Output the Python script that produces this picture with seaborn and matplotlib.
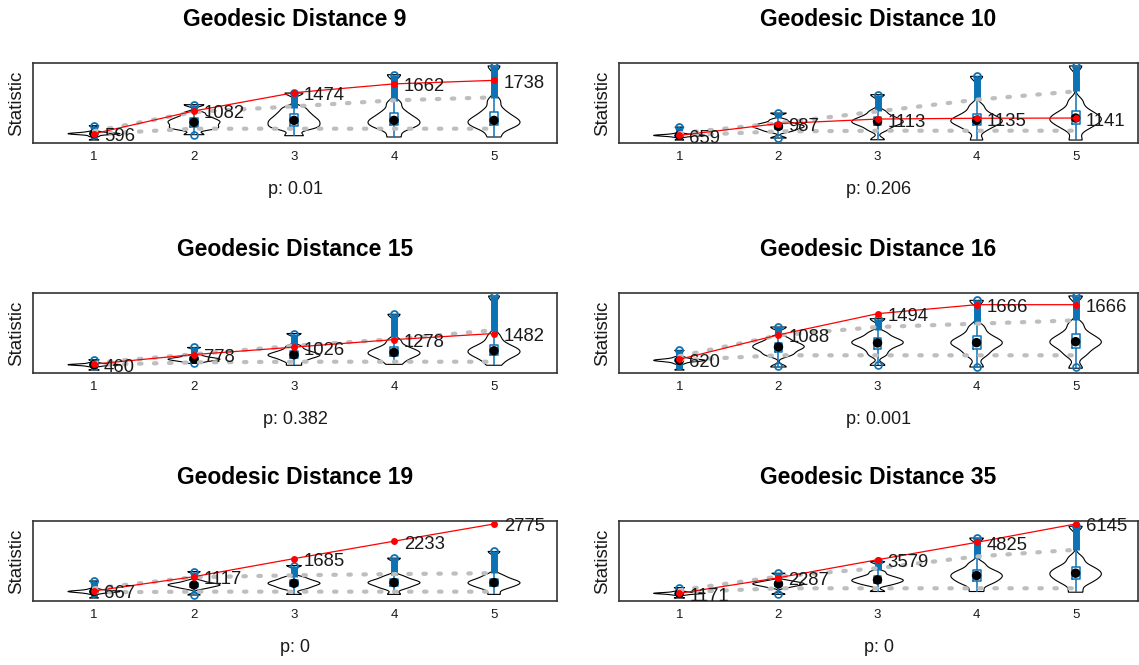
import numpy as np
import pandas as pd
import matplotlib
matplotlib.use("Agg")
import matplotlib.pyplot as plt
import seaborn as sns

# ---------------------------------------------------------------- data
positions = [1, 2, 3, 4, 5]
tick_labels = ["1", "2", "3", "4", "5"]
distances = [9, 10, 15, 16, 19, 35]
p_values = ["0.01", "0.206", "0.382", "0.001", "0", "0"]

# observed statistic at each degree
obs_9 = [596, 1082, 1474, 1662, 1738]
obs_10 = [659, 987, 1113, 1135, 1141]
obs_15 = [460, 778, 1026, 1278, 1482]
obs_16 = [620, 1088, 1494, 1666, 1666]
obs_19 = [667, 1117, 1685, 2233, 2775]
obs_35 = [1171, 2287, 3579, 4825, 6145]

# representative simulated draws at each degree (min ... max)
sim_9 = [[460, 540, 575, 585, 592, 596, 600, 606, 615, 640, 767],
         [575, 690, 720, 760, 800, 839, 870, 910, 960, 1040, 1217],
         [553, 700, 740, 790, 835, 881, 930, 990, 1060, 1150, 1467],
         [525, 700, 750, 800, 845, 881, 935, 1000, 1090, 1250, 1859],
         [525, 700, 755, 805, 850, 881, 940, 1010, 1110, 1300, 2046]]
sim_10 = [[530, 610, 640, 650, 655, 659, 663, 668, 680, 710, 891],
          [585, 760, 810, 850, 885, 909, 935, 970, 1010, 1090, 1280],
          [538, 800, 900, 970, 1010, 1048, 1090, 1140, 1210, 1330, 1790],
          [530, 800, 910, 990, 1040, 1076, 1130, 1200, 1300, 1480, 2300],
          [530, 820, 940, 1020, 1080, 1141, 1200, 1280, 1400, 1620, 2588]]
sim_15 = [[260, 380, 410, 425, 432, 438, 444, 452, 465, 500, 604],
          [482, 540, 570, 595, 612, 627, 645, 665, 695, 740, 1016],
          [420, 560, 640, 700, 740, 771, 810, 860, 930, 1050, 1482],
          [450, 600, 690, 760, 810, 849, 900, 970, 1060, 1250, 2127],
          [420, 620, 720, 800, 860, 904, 960, 1040, 1160, 1400, 2738]]
sim_16 = [[415, 540, 575, 590, 596, 600, 605, 612, 625, 660, 792],
          [473, 690, 740, 790, 830, 856, 885, 920, 960, 1030, 1239],
          [505, 700, 790, 860, 905, 933, 965, 1000, 1050, 1130, 1398],
          [473, 690, 780, 860, 905, 939, 980, 1030, 1110, 1240, 1749],
          [450, 690, 790, 870, 920, 958, 1000, 1060, 1140, 1290, 1833]]
sim_19 = [[445, 580, 620, 638, 645, 650, 656, 664, 680, 730, 983],
          [540, 740, 780, 815, 840, 857, 875, 900, 930, 990, 1278],
          [560, 730, 790, 840, 880, 909, 940, 980, 1030, 1100, 1468],
          [560, 740, 800, 860, 900, 930, 960, 1000, 1060, 1140, 1700],
          [560, 740, 800, 860, 900, 930, 965, 1010, 1075, 1170, 1911]]
sim_35 = [[832, 1050, 1110, 1140, 1160, 1171, 1182, 1200, 1230, 1300, 1580],
          [1099, 1580, 1680, 1750, 1800, 1844, 1890, 1940, 2000, 2100, 2613],
          [1300, 1750, 1880, 1980, 2060, 2132, 2210, 2310, 2450, 2700, 3454],
          [1300, 1800, 2000, 2170, 2320, 2445, 2570, 2720, 2920, 3300, 5136],
          [1250, 1850, 2100, 2300, 2470, 2613, 2770, 2950, 3200, 3700, 5980]]

# dotted envelope of the simulations (lower / upper)
env_lo_9 = [590, 703, 703, 703, 703]
env_hi_9 = [650, 1060, 1181, 1310, 1374]
env_lo_10 = [659, 770, 789, 789, 789]
env_hi_10 = [720, 1000, 1326, 1651, 1883]
env_lo_15 = [438, 516, 538, 538, 538]
env_hi_15 = [500, 790, 1071, 1293, 1593]
env_lo_16 = [605, 697, 697, 697, 697]
env_hi_16 = [680, 1079, 1239, 1302, 1366]
env_lo_19 = [625, 646, 646, 646, 646]
env_hi_19 = [750, 1100, 1160, 1200, 1226]
env_lo_35 = [1250, 1531, 1531, 1531, 1531]
env_hi_35 = [1400, 2372, 2973, 3814, 4295]

# run of outlying draws above the whiskers (start / end)
run_lo_9 = [480, 1130, 1146, 1288, 1360]
run_hi_9 = [767, 1217, 1467, 1859, 2046]
run_lo_10 = [560, 1150, 1326, 1651, 1883]
run_hi_10 = [891, 1280, 1790, 2300, 2588]
run_lo_15 = [270, 760, 1071, 1290, 1560]
run_hi_15 = [604, 1016, 1482, 2127, 2738]
run_lo_16 = [430, 1080, 1175, 1302, 1366]
run_hi_16 = [792, 1239, 1398, 1749, 1833]
run_lo_19 = [480, 1050, 1120, 1170, 1225]
run_hi_19 = [983, 1278, 1468, 1700, 1911]
run_lo_35 = [900, 2250, 2853, 3694, 4295]
run_hi_35 = [1580, 2613, 3454, 5136, 5980]

# lowest outlying draw below the whiskers (nan where there is none)
nan = float("nan")
low_9 = [nan, 575, nan, nan, nan]
low_10 = [nan, 585, nan, nan, nan]
low_15 = [nan, 482, nan, nan, nan]
low_16 = [nan, 490, 520, 480, 470]
low_19 = [nan, 540, nan, nan, nan]
low_35 = [nan, 1099, nan, nan, nan]

panels = [
    (obs_9, sim_9, env_lo_9, env_hi_9, run_lo_9, run_hi_9, low_9),
    (obs_10, sim_10, env_lo_10, env_hi_10, run_lo_10, run_hi_10, low_10),
    (obs_15, sim_15, env_lo_15, env_hi_15, run_lo_15, run_hi_15, low_15),
    (obs_16, sim_16, env_lo_16, env_hi_16, run_lo_16, run_hi_16, low_16),
    (obs_19, sim_19, env_lo_19, env_hi_19, run_lo_19, run_hi_19, low_19),
    (obs_35, sim_35, env_lo_35, env_hi_35, run_lo_35, run_hi_35, low_35),
]

# ---------------------------------------------------------------- style
sns.set_theme(style="white")
plt.rcParams["font.family"] = ["Liberation Sans", "DejaVu Sans"]

BLUE = "#0B72B5"
GRAY = "#BEBEBE"
TEXT = "#1A1A1A"
FRAME = "#333333"

W, H = 1139, 665
fig = plt.figure(figsize=(W / 100, H / 100), dpi=100)

col_x = [(33, 557), (619, 1138)]
row_top = [63, 293, 521]
AX_H = 80

for i, (obs, sim, env_lo, env_hi, run_lo, run_hi, low) in enumerate(panels):
    r, c = divmod(i, 2)
    x0, x1 = col_x[c]
    top = row_top[r]
    ax = fig.add_axes([x0 / W, 1 - (top + AX_H) / H, (x1 - x0) / W, AX_H / H])

    df = pd.DataFrame({
        "degree": np.repeat(positions, [len(s) for s in sim]),
        "stat": np.concatenate(sim),
    })

    sns.violinplot(data=df, x="degree", y="stat", native_scale=True,
                   fill=False, color="black", linewidth=0.8, inner=None,
                   density_norm="width", cut=0, width=0.52, bw_adjust=0.35,
                   ax=ax, zorder=1)
    sns.boxplot(data=df, x="degree", y="stat", native_scale=True,
                fill=False, color=BLUE, width=0.08, whis=(0, 100),
                linewidth=1.1, showfliers=False, showcaps=False,
                ax=ax, zorder=2)

    # outlying draws
    ax.vlines(positions, run_lo, run_hi, color=BLUE, lw=5, zorder=3)
    ax.plot(positions, run_hi, "o", mfc="none", mec=BLUE, ms=5,
            mew=1.3, zorder=3)
    ax.plot(positions, low, "o", mfc="none", mec=BLUE, ms=5, mew=1.2,
            zorder=3)

    # medians of the simulated draws
    medians = [float(np.median(s)) for s in sim]
    sns.scatterplot(x=positions, y=medians, color="black", s=46,
                    edgecolor="none", legend=False, ax=ax, zorder=4)

    # envelope
    for env in (env_lo, env_hi):
        sns.lineplot(x=positions, y=env, color=GRAY, lw=3.0,
                     linestyle=(0, (0.6, 3.0)), dash_capstyle="round",
                     ax=ax, zorder=5)

    # observed statistic
    sns.lineplot(x=positions, y=obs, color="red", lw=0.9, marker="o",
                 markersize=5, markeredgewidth=0, ax=ax, zorder=6)
    for x, v in zip(positions, obs):
        ax.annotate(f"{v}", (x, v), xytext=(10, -3),
                    textcoords="offset pixels", ha="left", va="center",
                    fontsize=13.3, color=TEXT, zorder=7)

    allv = np.concatenate([np.concatenate(sim), obs])
    lo, hi = allv.min(), allv.max()
    pad = 0.04 * (hi - lo)
    ax.set_ylim(lo - pad, hi + pad)
    ax.set_xlim(0.39, 5.63)

    ax.set_xticks(positions)
    ax.set_xticklabels(tick_labels)
    ax.set_yticks([])
    ax.tick_params(axis="x", length=0, pad=6, labelsize=9.5,
                   labelcolor=TEXT)
    ax.set_xlabel("")
    ax.set_ylabel("")
    for sp in ax.spines.values():
        sp.set_visible(True)
        sp.set_color(FRAME)
        sp.set_linewidth(1.2)

    w = x1 - x0
    ax.text(0.5, 1 + 44 / AX_H, f"Geodesic Distance {distances[i]}",
            transform=ax.transAxes, ha="center", va="center",
            fontsize=16.5, fontweight="bold", color="black")
    ax.text(0.5, -46 / AX_H, f"p: {p_values[i]}", transform=ax.transAxes,
            ha="center", va="center", fontsize=13, color=TEXT)
    ax.text(-16 / w, 0.5, "Statistic", transform=ax.transAxes,
            ha="center", va="center", rotation=90, fontsize=13.5,
            color=TEXT)

fig.savefig("out.png", dpi=100)
